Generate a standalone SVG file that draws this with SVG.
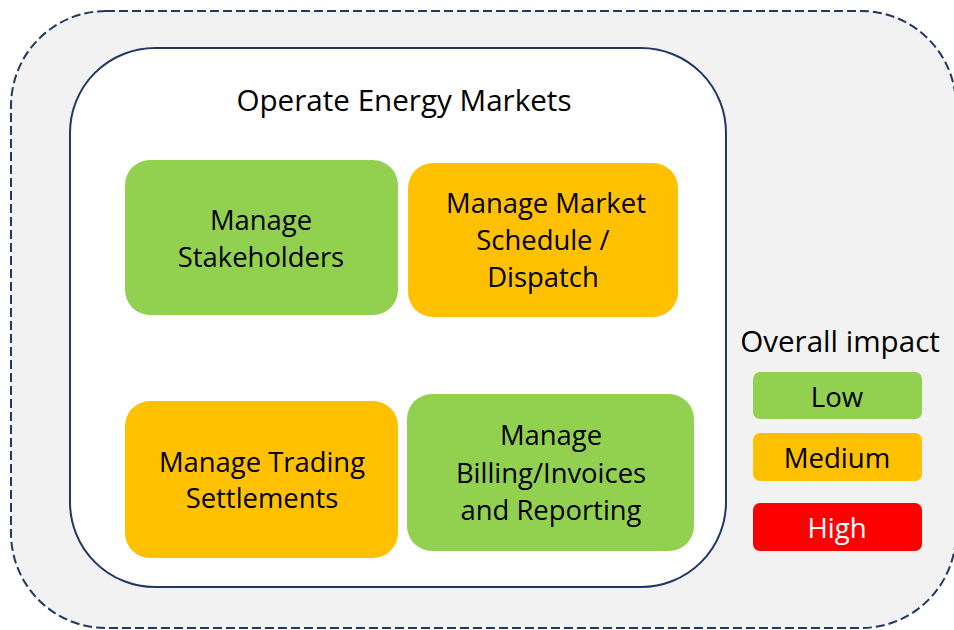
<svg xmlns="http://www.w3.org/2000/svg" width="954" height="630" viewBox="0 0 954 630">
<style>
  text { font-family: "Open Sans", "Noto Sans", sans-serif; fill: #000; text-anchor: middle; }
  .lbl { font-size: 27.4px; }
  .title { font-size: 29.6px; }
  .head { font-size: 29.6px; }
  .leg { font-size: 27.6px; }
  .green { fill: #92D050; }
  .orange { fill: #FFC000; }
  .red { fill: #FF0000; }
</style>
<rect width="954" height="630" fill="#ffffff"/>
<g id="outer">
  <rect x="11" y="11" width="945" height="617" rx="95" ry="95" fill="#F2F2F2" stroke="#1F3864" stroke-width="2" stroke-dasharray="9,4"/>
</g>
<g id="operate-energy-markets">
  <rect x="70" y="48" width="656" height="539" rx="85" ry="85" fill="#ffffff" stroke="#1F3864" stroke-width="2"/>
  <text class="title" x="404" y="111">Operate Energy Markets</text>
</g>
<g id="manage-stakeholders">
  <rect class="green" x="125" y="160" width="273" height="155" rx="25"/>
  <text class="lbl" x="261" y="230">Manage</text>
  <text class="lbl" x="261" y="267">Stakeholders</text>
</g>
<g id="manage-market-schedule">
  <rect class="orange" x="408" y="163" width="270" height="154" rx="25"/>
  <text class="lbl" x="546" y="213">Manage Market</text>
  <text class="lbl" x="543" y="250">Schedule /</text>
  <text class="lbl" x="543" y="287">Dispatch</text>
</g>
<g id="manage-trading-settlements">
  <rect class="orange" x="125" y="401" width="273" height="157" rx="25"/>
  <text class="lbl" x="262" y="472">Manage Trading</text>
  <text class="lbl" x="262" y="508">Settlements</text>
</g>
<g id="manage-billing">
  <rect class="green" x="407" y="394" width="287" height="157" rx="25"/>
  <text class="lbl" x="551" y="445">Manage</text>
  <text class="lbl" x="551" y="483">Billing/Invoices</text>
  <text class="lbl" x="551" y="520">and Reporting</text>
</g>
<g id="legend">
  <text class="head" x="840" y="352">Overall impact</text>
  <g id="legend-low">
    <rect class="green" x="753" y="372" width="169" height="47" rx="7"/>
    <text class="leg" x="837" y="407">Low</text>
  </g>
  <g id="legend-medium">
    <rect class="orange" x="753" y="433" width="169" height="48" rx="7"/>
    <text class="leg" x="837" y="468">Medium</text>
  </g>
  <g id="legend-high">
    <rect class="red" x="753" y="503" width="169" height="48" rx="7"/>
    <text class="leg" x="837" y="538" style="fill:#ffffff">High</text>
  </g>
</g>
<g id="connectors"></g>
</svg>
